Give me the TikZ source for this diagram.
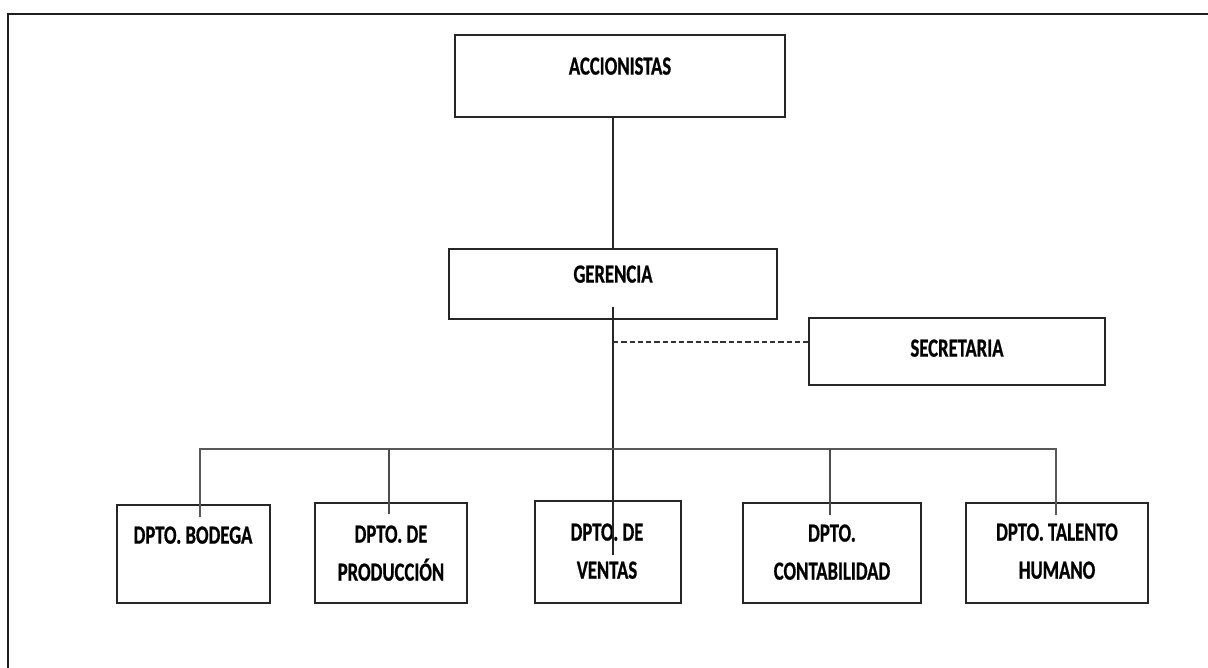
\documentclass[tikz,border=0pt]{standalone}
\usepackage{fontspec}
\setmainfont{Carlito}[BoldFeatures={FakeBold=0.9}]
\usepackage{graphicx}
\newcommand{\lbl}[1]{\scalebox{1}[1.4]{\begin{tabular}{@{}c@{}}#1\end{tabular}}}
\begin{document}
\begin{tikzpicture}[x=0.75pt,y=-0.75pt,
  box/.style 2 args={draw=black!85, line width=1.5pt, rectangle, inner sep=0pt,
    minimum width=#1*0.75pt, minimum height=#2*0.75pt},
  txt/.style={inner sep=0pt, font=\fontsize{14}{20.4}\selectfont\bfseries, text=black},
  frame/.style={draw=black!88, line width=1.6pt},
  mainline/.style={draw=black!85, line width=1.1pt},
  bus/.style={draw=black!65, line width=1.8pt},
  droplne/.style={draw=black!70, line width=1.3pt},
  dashline/.style={draw=black!80, line width=1.3pt, dash pattern=on 4pt off 2.2pt}]
\useasboundingbox (0,0) rectangle (1208,668);
% outer frame
\coordinate (fTL) at (8,14);
\coordinate (fTR) at (1208,14);
\coordinate (fBL) at (8,668);
\draw[frame] (fTR) -- (fTL) -- (fBL);
% boxes
\node[box={330}{82}] (acc) at (620,76) {};
\node[box={328}{70}] (ger) at (613,283.5) {};
\node[box={296}{67}] (sec) at (957,351.5) {};
\node[box={153}{98}] (bod) at (193.5,554) {};
\node[box={152}{100}] (prod) at (391,553) {};
\node[box={146}{102}] (ven) at (608,552) {};
\node[box={178}{100}] (con) at (832,553) {};
\node[box={182}{100}] (tal) at (1057,553) {};
% texts
\node[txt] (accT) at (620,67) {\lbl{ACCIONISTAS}};
\node[txt] (gerT) at (613,275) {\lbl{GERENCIA}};
\node[txt] (secT) at (957,349) {\lbl{SECRETARIA}};
\node[txt] (bodT) at (193,536) {\lbl{DPTO. BODEGA}};
\node[txt] (prodT) at (391,554) {\lbl{DPTO. DE\\PRODUCCIÓN}};
\node[txt] (venT) at (607,552) {\lbl{DPTO. DE\\VENTAS}};
\node[txt] (conT) at (832,553) {\lbl{DPTO.\\CONTABILIDAD}};
\node[txt] (talT) at (1057,552) {\lbl{DPTO. TALENTO\\HUMANO}};
% connectors
\draw[mainline] (ger.north |- acc.south) -- (ger.north);
\coordinate (vEnd) at (613,555);
\draw[mainline] ([yshift=9.75pt]ger.south) -- (vEnd);
\coordinate (dS) at (613,342);
\draw[dashline] (dS) -- (dS -| sec.west);
\coordinate (busL) at (200,449);
\coordinate (dBod) at (200,517);
\coordinate (dProd) at (389,514);
\coordinate (dCon) at (830,515);
\coordinate (dTal) at (1056,515);
\draw[bus] (dBod) -- (dBod |- busL) -- (dTal |- busL) -- (dTal);
\draw[droplne] (dProd) -- (dProd |- busL);
\draw[droplne] (dCon) -- (dCon |- busL);
\end{tikzpicture}
\end{document}
